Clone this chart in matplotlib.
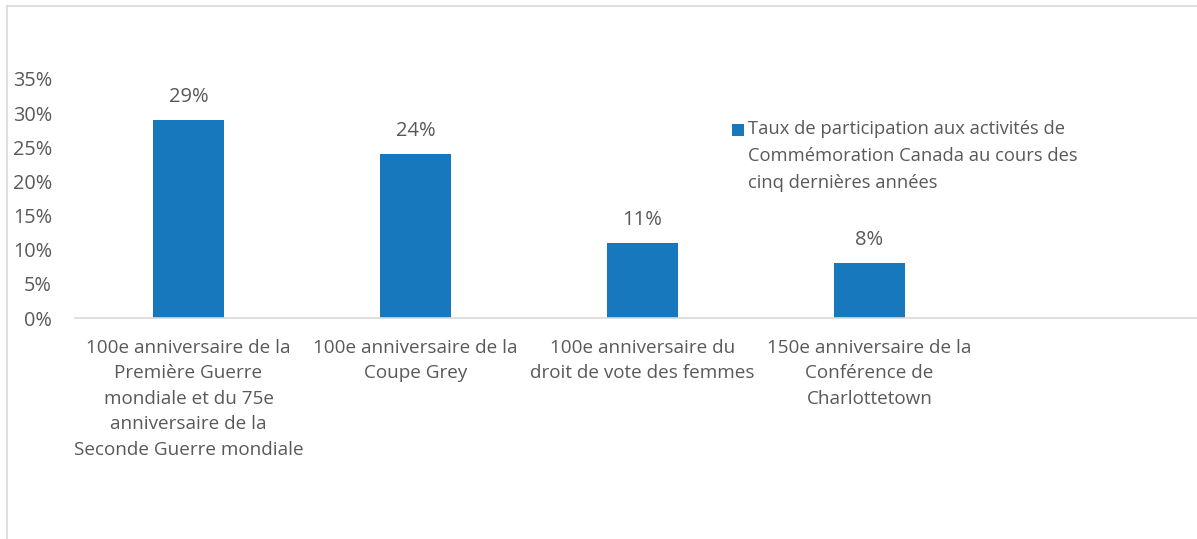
import matplotlib
matplotlib.use("Agg")
import matplotlib.pyplot as plt
from matplotlib.lines import Line2D
from matplotlib.patches import Rectangle
from matplotlib.legend_handler import HandlerBase
from matplotlib.ticker import FuncFormatter

categories = [
    "100e anniversaire de la\nPremière Guerre\nmondiale et du 75e\nanniversaire de la\nSeconde Guerre mondiale",
    "100e anniversaire de la\nCoupe Grey",
    "100e anniversaire du\ndroit de vote des femmes",
    "150e anniversaire de la\nConférence de\nCharlottetown",
]
values = [0.29, 0.24, 0.11, 0.08]
series_name = "Taux de participation aux activités de\nCommémoration Canada au cours des\ncinq dernières années"
yticks = [0, 0.05, 0.10, 0.15, 0.20, 0.25, 0.30, 0.35]

BAR = "#1878BE"
TXT = "#595959"
plt.rcParams['font.family'] = ['Open Sans', 'DejaVu Sans']

W, H = 1197, 539
fig = plt.figure(figsize=(W/100, H/100), dpi=100)
ax = fig.add_axes([75/W, 1-318/H, (W-75)/W, (318-79)/H])

x = list(range(len(categories)))
ax.bar(x, values, width=0.317, color=BAR, zorder=2)
for xi, v in zip(x, values):
    ax.annotate(f"{round(v*100)}%", (xi, v), xytext=(0, 16.5), textcoords="offset points",
                ha="center", va="center", fontsize=14.5, color=TXT)

ax.set_xlim(-0.5, -0.5 + (W-75)/227)
ax.set_ylim(0, 0.35)
ax.set_yticks(yticks)
ax.yaxis.set_major_formatter(FuncFormatter(lambda v, p: f"{round(v*100)}%"))
ax.set_xticks(x)
ax.set_xticklabels(categories, fontsize=13.6, color=TXT, linespacing=1.53)
ax.tick_params(axis='y', length=0, pad=16.5, labelsize=14.3, labelcolor=TXT)
ax.tick_params(axis='x', length=0, pad=15)
for s in ["top", "right", "left"]:
    ax.spines[s].set_visible(False)
ax.spines["bottom"].set_color("#d9d9d9")
ax.spines["bottom"].set_linewidth(1.2)


class TopSquareHandler(HandlerBase):
    def create_artists(self, legend, orig_handle, xdescent, ydescent,
                       width, height, fontsize, trans):
        s = 8.6
        r = Rectangle((-xdescent + (width - s) / 2, -ydescent + (height - s) / 2 + 19.0),
                      s, s, facecolor=orig_handle.get_facecolor(), edgecolor="none",
                      transform=trans)
        return [r]


handle = Rectangle((0, 0), 1, 1, facecolor=BAR)
leg = fig.legend([handle], [series_name], loc="upper left",
                 bbox_to_anchor=(731/W, 1-120/H), frameon=False, fontsize=13.2,
                 handlelength=0.75, handletextpad=0.2, borderpad=0, borderaxespad=0,
                 handler_map={Rectangle: TopSquareHandler()})
for t in leg.get_texts():
    t.set_color(TXT)
    t.set_linespacing(1.66)

# outer frame
fig.add_artist(Line2D([7/W, 7/W], [0, 1-6/H], color="#d9d9d9", lw=1.2, transform=fig.transFigure))
fig.add_artist(Line2D([7/W, 1], [1-6/H, 1-6/H], color="#d9d9d9", lw=1.2, transform=fig.transFigure))

fig.savefig("out.png", dpi=100)
